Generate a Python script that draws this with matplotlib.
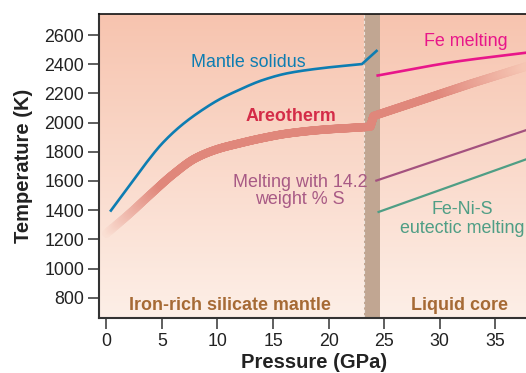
import numpy as np
import matplotlib
matplotlib.use("Agg")
import matplotlib.pyplot as plt
from matplotlib.collections import LineCollection
from matplotlib.colors import to_rgb

plt.rcParams['font.family'] = ['Liberation Sans', 'DejaVu Sans']

# ---------------- data ----------------
x_ticks = [0, 5, 10, 15, 20, 25, 30, 35]
y_ticks = [800, 1000, 1200, 1400, 1600, 1800, 2000, 2200, 2400, 2600]

solidus_p = [0.34, 2.0, 3.5, 5.0, 6.8, 8.9, 10.2, 11.6, 14.1, 16.3, 19.3, 23.0, 24.4]
solidus_t = [1390, 1561, 1715, 1855, 1984, 2100, 2160, 2212, 2292, 2338, 2372, 2401, 2497]

# mantle part of the areotherm (below the boundary) and core part (above it)
areo_mantle_p = [0.0, 2.0, 4.0, 6.0, 8.0, 10.0, 12.0, 14.0, 16.3, 19.3, 23.0, 23.75]
areo_mantle_t = [1240, 1370, 1510, 1645, 1755, 1818, 1858, 1893, 1925, 1950, 1968, 1972]
areo_core_p = [24.05, 28.4, 32.9, 37.8]
areo_core_t = [2045, 2155, 2269, 2385]

fe_p = [24.3, 31.4, 37.8]
fe_t = [2321, 2417, 2479]

s_p = [24.2, 37.8]
s_t = [1600, 1949]

eut_p = [24.4, 37.8]
eut_t = [1385, 1749]

band_p = [23.16, 24.6]


# smooth monotone cubic rendering of a polyline (drawing only)
def smooth_path(x, y, n=400):
    x = np.asarray(x, float)
    y = np.asarray(y, float)
    if len(x) < 3:
        return x, y
    h = np.diff(x)
    d = np.diff(y) / h
    m = np.zeros_like(x)
    m[0], m[-1] = d[0], d[-1]
    for k in range(1, len(x) - 1):
        if d[k - 1] * d[k] <= 0:
            m[k] = 0
        else:
            w1 = 2 * h[k] + h[k - 1]
            w2 = h[k] + 2 * h[k - 1]
            m[k] = (w1 + w2) / (w1 / d[k - 1] + w2 / d[k])
    xs = np.linspace(x[0], x[-1], n)
    idx = np.clip(np.searchsorted(x, xs) - 1, 0, len(x) - 2)
    t = (xs - x[idx]) / h[idx]
    h00 = 2 * t**3 - 3 * t**2 + 1
    h10 = t**3 - 2 * t**2 + t
    h01 = -2 * t**3 + 3 * t**2
    h11 = t**3 - t**2
    ys = h00 * y[idx] + h10 * h[idx] * m[idx] + h01 * y[idx + 1] + h11 * h[idx] * m[idx + 1]
    return xs, ys


def densify(x, y, n=60):
    xs, ys = [], []
    for i in range(len(x) - 1):
        s = np.linspace(0, 1, n, endpoint=False)
        xs.append(x[i] + (x[i + 1] - x[i]) * s)
        ys.append(y[i] + (y[i + 1] - y[i]) * s)
    xs.append([x[-1]])
    ys.append([y[-1]])
    return np.concatenate(xs), np.concatenate(ys)


# ---------------- figure ----------------
fig = plt.figure(figsize=(5.26, 3.73), dpi=100)
ax = fig.add_axes([99 / 526, 1 - 318 / 373, 427 / 526, 304 / 373])
xmin, xmax, ymin, ymax = -0.66, 37.76, 661, 2744

top_c = np.array([247, 196, 175]) / 255
bot_c = np.array([253, 239, 231]) / 255
frac = np.linspace(0, 1, 256)[:, None, None]
img = top_c[None, None, :] + (bot_c - top_c)[None, None, :] * frac
ax.imshow(img, extent=[xmin, xmax, ymin, ymax], aspect='auto', origin='upper', zorder=0)


def bg_at(t):
    f = (ymax - t) / (ymax - ymin)
    return top_c + (bot_c - top_c) * f


ax.axvspan(band_p[0], band_p[1], color='#c1a692', lw=0, zorder=1)
ax.axvline(band_p[0], color='white', lw=0.8, ls=(0, (3, 2)), alpha=0.7, zorder=1.5)

# areotherm with faded ends
mx, my = smooth_path(areo_mantle_p, areo_mantle_t, n=500)
cx, cy = densify([areo_mantle_p[-1]] + areo_core_p, [areo_mantle_t[-1]] + areo_core_t)
px = np.concatenate([mx, cx[1:]])
py = np.concatenate([my, cy[1:]])
pts = np.column_stack([px, py])
segs = np.stack([pts[:-1], pts[1:]], axis=1)
mid = segs.mean(axis=1)
line_c = np.array(to_rgb('#e0877b'))
a_left = np.clip((mid[:, 0] - 0.0) / 5.0, 0.04, 1)
a_right = 1 - 0.92 * np.clip((mid[:, 0] - 30.0) / 7.8, 0, 1)
alpha = np.minimum(a_left, a_right)
cols = [a * line_c + (1 - a) * bg_at(t) for a, t in zip(alpha, mid[:, 1])]
lc = LineCollection(segs, colors=cols, linewidths=6.0, capstyle='round', joinstyle='round', zorder=2)
ax.add_collection(lc)

sx, sy = smooth_path(solidus_p[:-1], solidus_t[:-1])
sx = np.append(sx, solidus_p[-1])
sy = np.append(sy, solidus_t[-1])
ax.plot(sx, sy, color='#0d7db2', lw=1.9, zorder=3, solid_capstyle='butt')
fx, fy = smooth_path(fe_p, fe_t)
ax.plot(fx, fy, color='#e8168a', lw=1.9, zorder=3, solid_capstyle='butt')
ax.plot(s_p, s_t, color='#a4527f', lw=1.6, zorder=3, solid_capstyle='butt')
ax.plot(eut_p, eut_t, color='#4f9e85', lw=1.6, zorder=3, solid_capstyle='butt')

ax.set_xlim(xmin, xmax)
ax.set_ylim(ymin, ymax)

# labels
fs = 12.9
ax.text(12.8, 2415, 'Mantle solidus', color='#0d7db2', fontsize=fs, ha='center', va='center', zorder=4)
ax.text(16.6, 2045, 'Areotherm', color='#d42c48', fontsize=fs, fontweight='bold', ha='center', va='center', zorder=4)
ax.text(32.3, 2554, 'Fe melting', color='#e8168a', fontsize=fs, ha='center', va='center', zorder=4)
ax.text(17.45, 1528, 'Melting with 14.2\nweight % S', color='#a85a85', fontsize=fs, ha='center', va='center',
        linespacing=1.0, zorder=4)
ax.text(32.05, 1340, 'Fe-Ni-S\neutectic melting', color='#4f9e85', fontsize=fs, ha='center', va='center',
        linespacing=1.1, zorder=4, clip_on=True)
ax.text(11.14, 745, 'Iron-rich silicate mantle', color='#a66a35', fontsize=fs, fontweight='bold',
        ha='center', va='center', zorder=4)
ax.text(31.8, 745, 'Liquid core', color='#a66a35', fontsize=fs, fontweight='bold', ha='center', va='center', zorder=4)

ax.set_xticks(x_ticks)
ax.set_yticks(y_ticks)
ax.set_xticklabels([str(v) for v in x_ticks])
ax.set_yticklabels([str(v) for v in y_ticks])
ax.tick_params(direction='out', length=7.7, width=1.1, color='#333333', labelsize=12.8, labelcolor='#222222', pad=3)

ax.set_xlabel('Pressure (GPa)', fontsize=14.5, fontweight='bold', color='#222222')
ax.set_ylabel('Temperature (K)', fontsize=14.5, fontweight='bold', color='#222222')
ax.xaxis.label.set_va('center')
ax.yaxis.label.set_va('center')
ax.xaxis.set_label_coords(0.503, -0.145)
ax.yaxis.set_label_coords(-0.177, 0.5)

for side in ['left', 'bottom']:
    ax.spines[side].set_color('#333333')
    ax.spines[side].set_linewidth(1.5)
ax.spines['top'].set_color('#111111')
ax.spines['top'].set_linewidth(1.2)
ax.spines['right'].set_visible(False)

fig.savefig('out.png', dpi=100)
